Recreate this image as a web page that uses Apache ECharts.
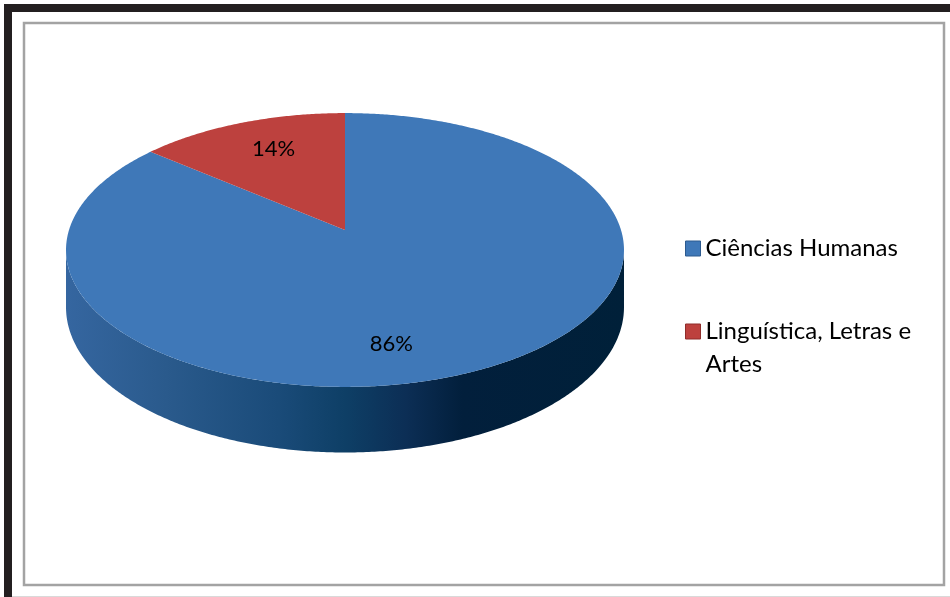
<!DOCTYPE html>
<html>
<head>
<meta charset="utf-8">
<script src="https://cdn.jsdelivr.net/npm/echarts@6/dist/echarts.min.js"></script>
<style>
  html, body { margin: 0; padding: 0; background: #ffffff; }
  #chart { width: 950px; height: 597px; }
</style>
</head>
<body>
<div id="chart"></div>
<script>
// Shares by field of knowledge
const categories = ['Ciências Humanas', 'Linguística, Letras e Artes'];
const values = [86, 14];
const sliceColors = ['#3f78b8', '#bd413e'];

const total = values.reduce((s, v) => s + v, 0);
const starts = values.map((_, i) => values.slice(0, i).reduce((s, v) => s + v, 0));

// Tilted disk seen in perspective: centre, half-axes, perspective strength, wall height
const disk = { cx: 345, cy: 230, rx: 276, ry: 134, persp: 0.146, depth: 56 };
const FONT = 'Lato, "Open Sans", sans-serif';

// Clockwise angle from 12 o'clock, radius fraction, vertical drop -> screen point
function project(theta, r, dz) {
  const u = r * Math.sin(theta);
  const v = -r * Math.cos(theta);
  const s = 1 / (1 - disk.persp * v);
  return [disk.cx + disk.rx * u * s, disk.cy + disk.ry * v * s + dz * s];
}

function arc(t0, t1, r, dz) {
  const n = Math.max(2, Math.ceil((t1 - t0) / (Math.PI / 360)));
  const pts = [];
  for (let k = 0; k <= n; k++) pts.push(project(t0 + (t1 - t0) * k / n, r, dz));
  return pts;
}

// Word wrap for legend names, so no line starts with a space
const measureCtx = document.createElement('canvas').getContext('2d');
function wrapWords(text, maxWidth, font) {
  measureCtx.font = font;
  const lines = [];
  let line = '';
  text.split(' ').forEach(word => {
    const next = line ? line + ' ' + word : word;
    if (line && measureCtx.measureText(next).width > maxWidth) {
      lines.push(line);
      line = word;
    } else {
      line = next;
    }
  });
  if (line) lines.push(line);
  return lines;
}

// Shading of the outer wall, dark towards the right
const wallFill = new echarts.graphic.LinearGradient(66, 0, 624, 0, [
  { offset: 0.00, color: '#3566a0' },
  { offset: 0.18, color: '#2a5a8c' },
  { offset: 0.38, color: '#1a4b79' },
  { offset: 0.50, color: '#0e3f66' },
  { offset: 0.61, color: '#0c2e55' },
  { offset: 0.71, color: '#021f3c' },
  { offset: 1.00, color: '#002039' }
], true);

const labelPlacement = [
  { radius: 0.77, shiftDeg: 14 },
  { radius: 0.72, shiftDeg: 2 }
];

function makeRenderItem(i) {
  return function (params, api) {
    const val = api.value(0);
    const t0 = starts[i] / total * Math.PI * 2;
    const t1 = t0 + val / total * Math.PI * 2;
    const children = [];

    // visible front wall lies between the left and right silhouette points
    const fa = Math.acos(-disk.persp);
    const fb = Math.PI * 2 - fa;
    const s0 = Math.max(t0, fa), s1 = Math.min(t1, fb);
    if (s1 > s0) {
      const upper = arc(s0, s1, 1, 0);
      const lower = arc(s0, s1, 1, disk.depth).reverse();
      children.push({
        type: 'polygon',
        shape: { points: upper.concat(lower) },
        style: { fill: wallFill }
      });
    }

    children.push({
      type: 'polygon',
      shape: { points: [[disk.cx, disk.cy]].concat(arc(t0, t1, 1, 0)) },
      style: { fill: api.visual('color') }
    });

    const lp = labelPlacement[i];
    const p = project((t0 + t1) / 2 + lp.shiftDeg * Math.PI / 180, lp.radius, 0);
    children.push({
      type: 'text',
      x: p[0], y: p[1], z2: 10,
      style: {
        text: Math.round(val / total * 100) + '%',
        fill: '#000000',
        font: '22px ' + FONT,
        align: 'center',
        verticalAlign: 'middle'
      }
    });
    return { type: 'group', children: children };
  };
}

const chart = echarts.init(document.getElementById('chart'), null, { renderer: 'canvas' });

const legendText = { fontFamily: FONT, fontSize: 24, color: '#000000', lineHeight: 33 };
const legendBase = {
  left: 685,
  orient: 'vertical',
  padding: 0,
  itemWidth: 15,
  itemHeight: 15,
  icon: 'rect',
  selectedMode: false,
  textStyle: legendText
};

chart.setOption({
  animation: false,
  backgroundColor: '#ffffff',
  legend: [
    Object.assign({}, legendBase, {
      top: 232,
      data: [{ name: categories[0], itemStyle: { borderColor: '#2c5a8f', borderWidth: 1 } }]
    }),
    Object.assign({}, legendBase, {
      top: 282,
      // blank leading line keeps the swatch level with the first text line
      formatter: name => '\n' + wrapWords(name, 228, '24px ' + FONT).join('\n'),
      data: [{ name: categories[1], itemStyle: { borderColor: '#8f2d2b', borderWidth: 1 } }]
    })
  ],
  graphic: [
    { type: 'rect', shape: { x: 4, y: 4, width: 946, height: 8 }, style: { fill: '#231f20' }, silent: true },
    { type: 'rect', shape: { x: 4, y: 4, width: 8, height: 593 }, style: { fill: '#231f20' }, silent: true },
    { type: 'rect', shape: { x: 24, y: 23, width: 920, height: 562 },
      style: { fill: 'none', stroke: '#a3a3a3', lineWidth: 2.5 }, silent: true },
    { type: 'line', shape: { x1: 12, y1: 596.5, x2: 950, y2: 596.5 },
      style: { stroke: '#d9d9d9', lineWidth: 1 }, silent: true }
  ],
  series: categories.map((name, i) => ({
    type: 'custom',
    name: name,
    coordinateSystem: 'none',
    itemStyle: { color: sliceColors[i] },
    renderItem: makeRenderItem(i),
    data: [values[i]]
  }))
});
</script>
</body>
</html>
